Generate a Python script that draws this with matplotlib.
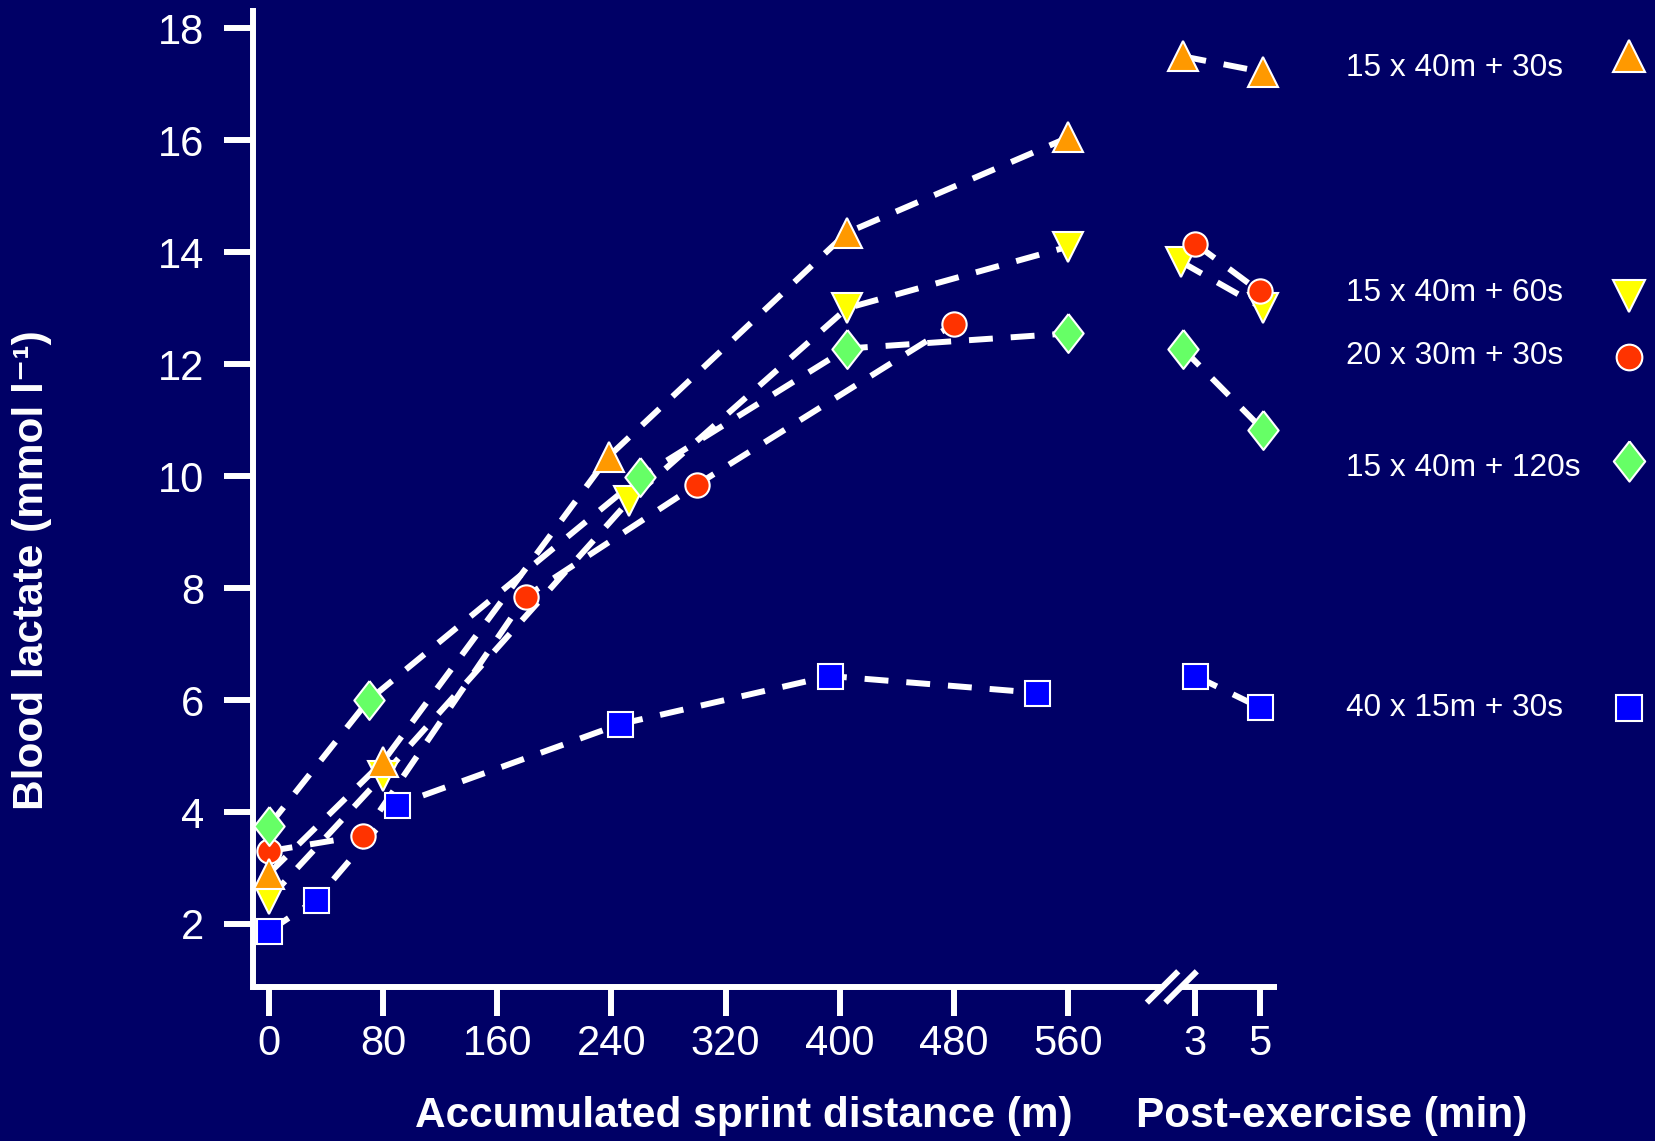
import matplotlib.pyplot as plt
from matplotlib.lines import Line2D

plt.rcParams['font.family'] = ['Liberation Sans', 'DejaVu Sans']

# protocols (legend order)
labels = ['15 x 40m + 30s', '15 x 40m + 60s', '20 x 30m + 30s', '15 x 40m + 120s', '40 x 15m + 30s']

# accumulated sprint distance (m) and blood lactate (mmol/l) during exercise
dist_40_30 = [0, 80, 238, 405, 560]
lact_40_30 = [2.9, 4.9, 10.35, 14.35, 16.05]
dist_40_60 = [0, 80, 252, 405, 560]
lact_40_60 = [2.45, 4.65, 9.55, 13.0, 14.1]
dist_30_30 = [0, 66, 180, 300, 480]
lact_30_30 = [3.3, 3.58, 7.85, 9.85, 12.72]
dist_40_120 = [0, 70, 260, 405, 560]
lact_40_120 = [3.75, 6.0, 9.98, 12.28, 12.55]
dist_15_30 = [0, 33, 90, 246, 393, 538]
lact_15_30 = [1.87, 2.43, 4.13, 5.57, 6.43, 6.13]

# post-exercise (min)
post_min = [3, 5]
post_40_30 = [17.5, 17.22]
post_40_60 = [13.83, 13.0]
post_30_30 = [14.15, 13.3]
post_40_120 = [12.28, 10.83]
post_15_30 = [6.43, 5.87]

dist_ticks = [0, 80, 160, 240, 320, 400, 480, 560]

bg = '#000066'
colors = ['#FF9900', '#FFFF00', '#FF3300', '#66FF66', '#0000FF']
diamond = [(0, 1), (0.78, 0), (0, -1), (-0.78, 0), (0, 1)]
markers = ['^', 'v', 'o', diamond, 's']
msizes = [22, 22, 17.5, 28, 18]
dodge = [(-0.4, 0.1), (-0.45, 0.1), (0, 0), (-0.4, 0.1), (0, 0)]
draw_order = [1, 2, 0, 3, 4]

# post-exercise minutes placed to the right of the distance scale
post_origin = 649
post_scale = 22.5


def post_pos(t):
    return post_origin + (t - 3) * post_scale


dists = [dist_40_30, dist_40_60, dist_30_30, dist_40_120, dist_15_30]
lacts = [lact_40_30, lact_40_60, lact_30_30, lact_40_120, lact_15_30]
posts = [post_40_30, post_40_60, post_30_30, post_40_120, post_15_30]

fig = plt.figure(figsize=(16.56, 11.41), dpi=100, facecolor=bg)
ax = fig.add_axes([0.1528, 0.135, 0.771 - 0.1528, 0.8554])
ax.set_facecolor(bg)

xmin, xmax = -11, 706
ymin, ymax = 0.875, 18.31
ax.set_xlim(xmin, xmax)
ax.set_ylim(ymin, ymax)

dash = (0, (4, 3))
for i in range(5):
    px = [post_pos(t) + post_scale * d for t, d in zip(post_min, dodge[i])]
    ax.plot(dists[i], lacts[i], color='white', lw=4.3, linestyle=dash, zorder=2)
    ax.plot(px, posts[i], color='white', lw=4.3, linestyle=dash, zorder=2)

for k, i in enumerate(draw_order):
    px = [post_pos(t) + post_scale * d for t, d in zip(post_min, dodge[i])]
    kw = dict(linestyle='none', marker=markers[i], markersize=msizes[i],
              markerfacecolor=colors[i], markeredgecolor='white', markeredgewidth=1.5,
              zorder=3 + k, clip_on=False)
    ax.plot(dists[i], lacts[i], **kw)
    ax.plot(px, posts[i], **kw)

# axes styling
for s in ['top', 'right', 'bottom']:
    ax.spines[s].set_visible(False)
ax.spines['left'].set_color('white')
ax.spines['left'].set_linewidth(4.3)

ax.set_yticks(range(2, 19, 2))
ax.set_xticks(dist_ticks + [post_pos(t) for t in post_min])
ax.set_xticklabels([str(d) for d in dist_ticks] + [str(t) for t in post_min])
ax.tick_params(axis='both', colors='white', labelcolor='white', labelsize=30,
               length=21, width=4.3, direction='out')
ax.tick_params(axis='x', pad=6)
ax.tick_params(axis='y', pad=14)

# broken x axis line
b1, b2 = 626, 639
ax.plot([xmin, b1], [ymin, ymin], color='white', lw=4.3, clip_on=False,
        solid_capstyle='butt', zorder=10)
ax.plot([b2, xmax], [ymin, ymin], color='white', lw=4.3, clip_on=False,
        solid_capstyle='butt', zorder=10)
for bx in (b1, b2):
    ax.plot([bx - 11, bx + 11], [ymin - 0.28, ymin + 0.28], color='white', lw=4.3,
            clip_on=False, solid_capstyle='butt', zorder=10)

# axis titles
fig.text(743.5 / 1656, 1 - 1116 / 1141, 'Accumulated sprint distance (m)', color='white',
         fontsize=30.5, fontweight='bold', ha='center', va='center')
fig.text(1331.6 / 1656, 1 - 1116 / 1141, 'Post-exercise (min)', color='white',
         fontsize=30.5, fontweight='bold', ha='center', va='center')
fig.text(32 / 1656, 1 - 570 / 1141, 'Blood lactate (mmol l\u207b\u00b9)', color='white',
         fontsize=30.5, fontweight='bold', ha='center', va='center', rotation=90)

# legend column
text_y = [68, 293, 356, 468, 707.5]
key_y = [56, 296, 357, 461, 707.5]
for i in range(5):
    fig.text(1346 / 1656, 1 - text_y[i] / 1141, labels[i], color='white', fontsize=22.8,
             ha='left', va='center')
    fig.add_artist(Line2D([1629 / 1656], [1 - key_y[i] / 1141], transform=fig.transFigure,
                          linestyle='none', marker=markers[i], markersize=msizes[i] + 1,
                          markerfacecolor=colors[i], markeredgecolor='white',
                          markeredgewidth=1.5))

fig.savefig('out.png', dpi=100, facecolor=bg)
